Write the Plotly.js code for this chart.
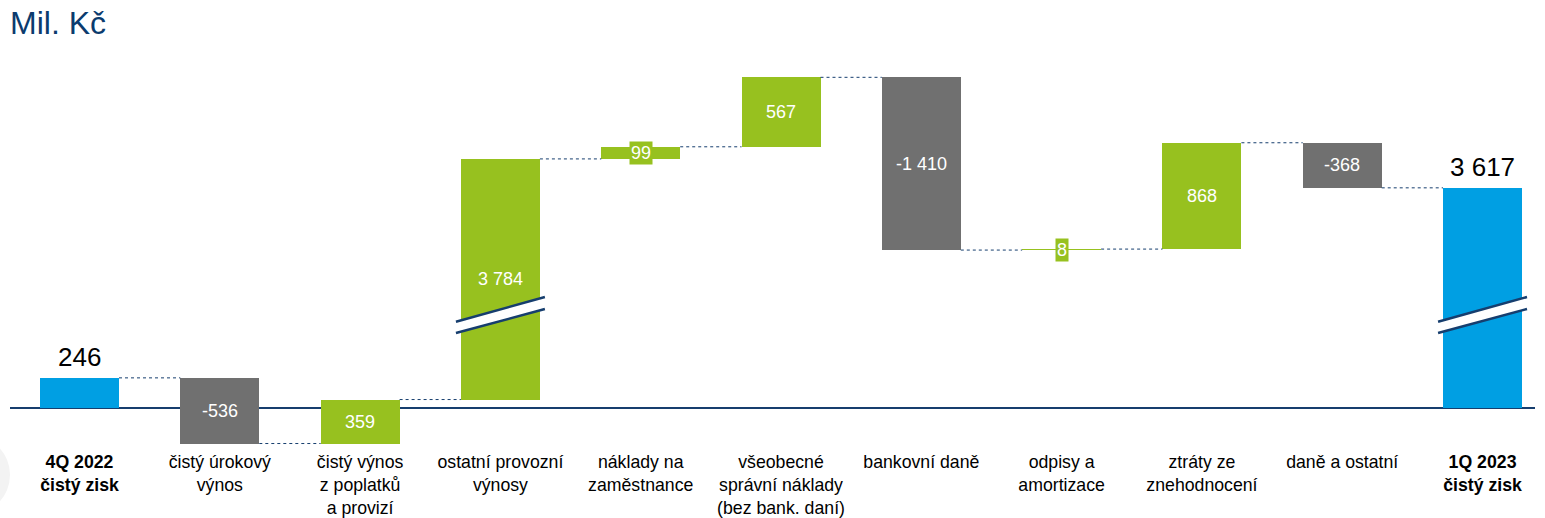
<!DOCTYPE html>
<html><head><meta charset="utf-8">
<script src="https://cdn.plot.ly/plotly-3.0.1.min.js"></script>
<style>html,body{margin:0;padding:0;background:#fff}</style>
</head><body>
<div id="chart" style="width:1545px;height:518px"></div>
<script>
// ---- data ----
const categories = [
  '<b>4Q 2022</b><br><b>čistý zisk</b>',
  'čistý úrokový<br>výnos',
  'čistý výnos<br>z poplatků<br>a provizí',
  'ostatní provozní<br>výnosy',
  'náklady na<br>zaměstnance',
  'všeobecné<br>správní náklady<br>(bez bank. daní)',
  'bankovní daně',
  'odpisy a<br>amortizace',
  'ztráty ze<br>znehodnocení',
  'daně a ostatní',
  '<b>1Q 2023</b><br><b>čistý zisk</b>'
];
const values = [246, -536, 359, 3784, 99, 567, -1410, 8, 868, -368, 3617];
const kinds  = ['total','delta','delta','delta','delta','delta','delta','delta','delta','delta','total'];

// ---- axis break (display transform) ----
const CUT_ABOVE = 2000;   // values above this are drawn shifted down
const CUT_SIZE  = 1820;   // amount removed by the axis break
const disp = v => v > CUT_ABOVE ? v - CUT_SIZE : v;

const COL_TOTAL = '#009FE3', COL_UP = '#97C11F', COL_DOWN = '#707070';
const NAVY = '#163E6E';
const W = 0.563;

function fmt(v){
  const s = Math.abs(v).toString().replace(/\B(?=(\d{3})+(?!\d))/g, ' ');
  return (v < 0 ? '-' : '') + s;
}

const xs = values.map((_, i) => i);
const bases = [], heights = [], colors = [], ends = [];
let level = 0;
values.forEach((v, i) => {
  if (kinds[i] === 'total') {
    bases.push(0); heights.push(disp(v)); colors.push(COL_TOTAL); level = v;
  } else {
    const s = level, e = level + v;
    bases.push(disp(s)); heights.push(disp(e) - disp(s));
    colors.push(v >= 0 ? COL_UP : COL_DOWN); level = e;
  }
  ends.push(level);
});

// connectors
const cx = [], cy = [];
for (let i = 0; i < values.length - 1; i++) {
  cx.push(i + W/2, i + 1 - W/2, null);
  cy.push(disp(ends[i]), disp(ends[i]), null);
}

const traces = [
  {type:'scatter', mode:'lines', x:cx, y:cy, line:{color:NAVY, width:1, dash:'dot'}, hoverinfo:'skip', showlegend:false},
  {type:'bar', x:xs, y:heights, base:bases, width:W, marker:{color:colors, line:{width:0}}, hoverinfo:'skip', showlegend:false}
];

// value labels
const annotations = values.map((v, i) => {
  if (kinds[i] === 'total') {
    return {x:i, y:disp(v), yref:'y', xref:'x', text:fmt(v), showarrow:false,
      yanchor:'bottom', yshift:4, font:{family:'Liberation Sans, Arial', size:26, color:'#000'}};
  }
  const mid = bases[i] + heights[i]/2;
  const small = Math.abs(heights[i]) < 180;
  return {x:i, y:mid, xref:'x', yref:'y', text:fmt(v), showarrow:false,
    font:{family:'Liberation Sans, Arial', size:18, color:'#fff'},
    bgcolor: small ? colors[i] : 'rgba(0,0,0,0)', borderpad: small ? 1 : 0};
});

// axis break marks (on bars that cross the break)
const shapes = [];
const BRK_L1 = 704, BRK_R1 = 906, BRK_L2 = 612, BRK_R2 = 808, HW = 0.317;
values.forEach((v, i) => {
  const realLo = kinds[i]==='total' ? 0 : ends[i] - v, realHi = ends[i];
  if (realLo < CUT_ABOVE && realHi > CUT_ABOVE) {
    shapes.push({type:'path', xref:'x', yref:'y',
      path:`M ${i-HW} ${BRK_L1} L ${i+HW} ${BRK_R1} L ${i+HW} ${BRK_R2} L ${i-HW} ${BRK_L2} Z`,
      fillcolor:'#fff', line:{width:0}, layer:'above'});
    shapes.push({type:'line', xref:'x', yref:'y', x0:i-HW, y0:BRK_L1, x1:i+HW, y1:BRK_R1, line:{color:NAVY, width:2.5}, layer:'above'});
    shapes.push({type:'line', xref:'x', yref:'y', x0:i-HW, y0:BRK_L2, x1:i+HW, y1:BRK_R2, line:{color:NAVY, width:2.5}, layer:'above'});
  }
});
// decorative faint circle bottom-left
shapes.push({type:'circle', xref:'paper', yref:'paper', x0:-0.0525, x1:0.0, y0:-0.168, y1:0.033,
  fillcolor:'#F3F3F3', line:{width:0}, layer:'below'});

const layout = {
  width:1545, height:518,
  margin:{l:10, r:10, t:50, b:70, pad:0},
  paper_bgcolor:'#fff', plot_bgcolor:'#fff',
  title:{text:'Mil. Kč', xref:'container', yref:'container', x:0.0065, xanchor:'left', y:0.978, yanchor:'top',
    font:{family:'Liberation Sans, Arial', size:32, color:'#0B3B6E'}},
  xaxis:{range:[-0.4954, 10.374], tickvals:xs, ticktext:categories, showgrid:false, zeroline:false,
    showline:false, ticks:'', tickangle:0, ticklabelstandoff:1,
    tickfont:{family:'Liberation Sans, Arial', size:17.7, color:'#000'}, fixedrange:true},
  yaxis:{range:[-326.5, 2922], showgrid:false, showticklabels:false, ticks:'', showline:false,
    zeroline:true, zerolinecolor:NAVY, zerolinewidth:2, fixedrange:true},
  bargap:0, shapes, annotations, showlegend:false
};
Plotly.newPlot('chart', traces, layout, {displayModeBar:false, staticPlot:true});
</script>
</body></html>
